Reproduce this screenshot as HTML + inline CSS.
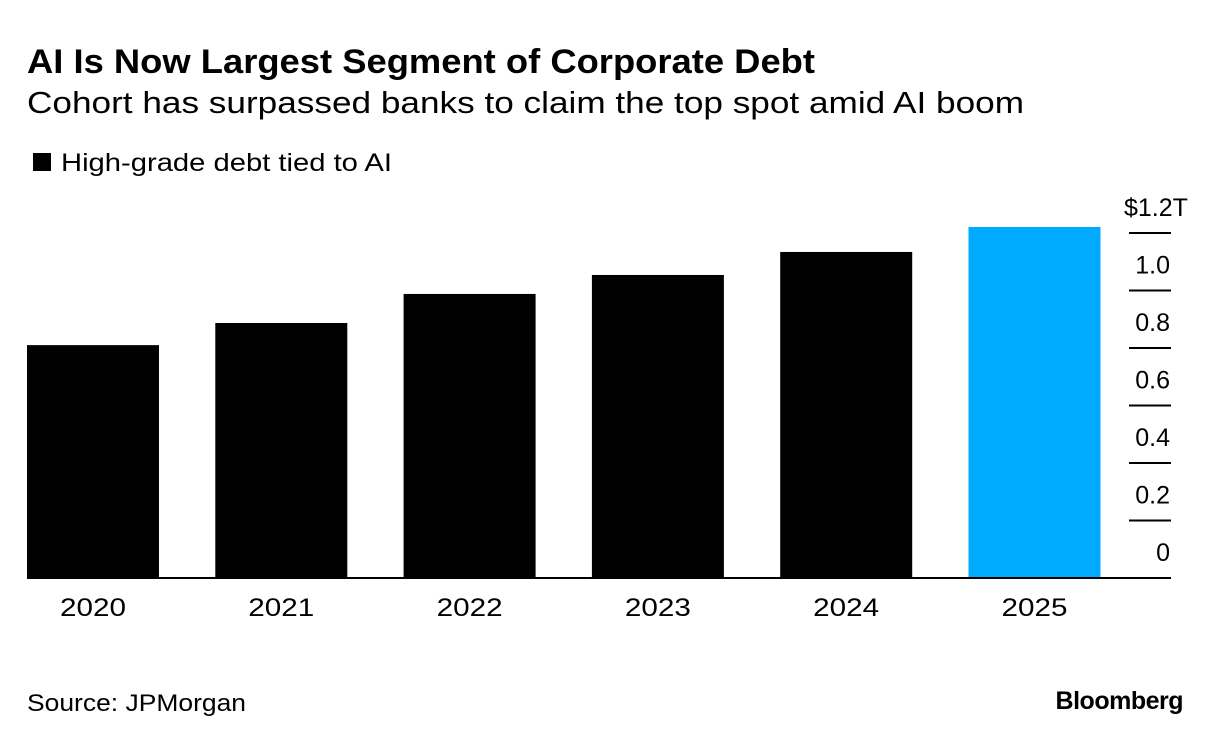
<!DOCTYPE html>
<html><head><meta charset="utf-8"><style>
body{margin:0;background:#fff;font-family:"Liberation Sans",sans-serif;}
svg text{font-family:"Liberation Sans",sans-serif;}
</style></head><body>
<svg width="1223" height="744" xmlns="http://www.w3.org/2000/svg">
<text x="27" y="73" font-size="34" font-weight="bold" fill="#000" textLength="788" lengthAdjust="spacingAndGlyphs">AI Is Now Largest Segment of Corporate Debt</text>
<text x="27" y="113" font-size="31" fill="#000" textLength="997" lengthAdjust="spacingAndGlyphs">Cohort has surpassed banks to claim the top spot amid AI boom</text>
<rect x="33" y="153" width="18" height="18" fill="#000"/>
<text x="61" y="171" font-size="25" fill="#000" textLength="331" lengthAdjust="spacingAndGlyphs">High-grade debt tied to AI</text>
<g id="plot"></g>
<text x="27" y="711" font-size="24" fill="#000" textLength="219" lengthAdjust="spacingAndGlyphs">Source: JPMorgan</text>
<text x="1183" y="709" font-size="25" font-weight="bold" fill="#000" text-anchor="end" letter-spacing="-0.5">Bloomberg</text>
</svg>
<script>
const categories=["2020","2021","2022","2023","2024","2025"];
const values=[0.81,0.887,0.988,1.054,1.134,1.221];
const tickValues=[0,0.2,0.4,0.6,0.8,1.0,1.2];
const tickLabels=["0","0.2","0.4","0.6","0.8","1.0","$1.2T"];
const NS="http://www.w3.org/2000/svg";
const g=document.getElementById('plot');
const y0=578,pxPer=287.5;
const y=v=>y0-v*pxPer;
const x=i=>27+i*188.3;
function mk(t,a){const e=document.createElementNS(NS,t);for(const k in a)e.setAttribute(k,a[k]);g.appendChild(e);return e;}
categories.forEach((c,i)=>{
 const r=mk('rect',{x:x(i),y:y(values[i]),width:132,height:y0-y(values[i]),fill:i===categories.length-1?'#00aaff':'#000'});
 
 
 const t=mk('text',{x:x(i)+66,y:616,'font-size':25,'text-anchor':'middle',fill:'#000',textLength:66,lengthAdjust:'spacingAndGlyphs'});
 t.textContent=c;
 
 
});
tickValues.forEach((v,i)=>{
 if(v>0){const l=mk('line',{x1:1129,x2:1171,y1:y(v),y2:y(v),stroke:'#000','stroke-width':2});
 
 }
 const last=i===tickValues.length-1;
 const t=mk('text',last?{x:1124,y:y(v)-17,'font-size':25,fill:'#000'}:{x:1170,y:y(v)-17,'font-size':25,'text-anchor':'end',fill:'#000'});
 t.textContent=tickLabels[i];
 
 
});
const b=mk('line',{x1:27,x2:1171,y1:y0,y2:y0,stroke:'#000','stroke-width':2});


</script>
</body></html>
